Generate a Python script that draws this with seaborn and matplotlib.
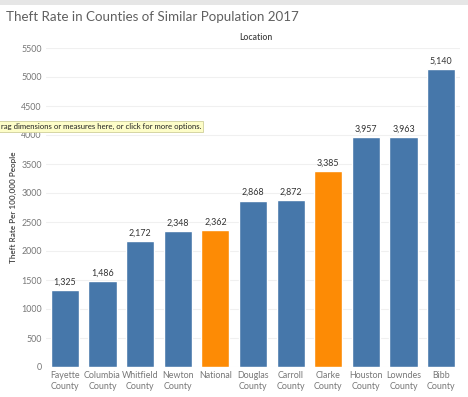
import pandas as pd
import matplotlib.pyplot as plt
import seaborn as sns
from matplotlib.patches import Rectangle

locations = ["Fayette\nCounty", "Columbia\nCounty", "Whitfield\nCounty", "Newton\nCounty",
             "National", "Douglas\nCounty", "Carroll\nCounty", "Clarke\nCounty",
             "Houston\nCounty", "Lowndes\nCounty", "Bibb\nCounty"]
theft_rate = [1325, 1486, 2172, 2348, 2362, 2868, 2872, 3385, 3957, 3963, 5140]
group = ["other", "other", "other", "other", "highlight", "other", "other", "highlight",
         "other", "other", "other"]
y_ticks = [0, 500, 1000, 1500, 2000, 2500, 3000, 3500, 4000, 4500, 5000, 5500]

df = pd.DataFrame({"Location": locations, "Rate": theft_rate, "Group": group})

sns.set_style("white")
plt.rcParams['font.family'] = ['Lato', 'DejaVu Sans']

fig = plt.figure(figsize=(4.68, 3.97), dpi=100)
ax = fig.add_axes([46 / 468, 30 / 397, 414 / 468, 319 / 397])

sns.barplot(data=df, x="Location", y="Rate", hue="Group",
            palette={"other": "#4677aa", "highlight": "#fd8b05"},
            saturation=1, dodge=False, width=0.75, legend=False, ax=ax)

for i, v in enumerate(theft_rate):
    ax.text(i, v + 60, f"{v:,}", ha="center", va="bottom", fontsize=6.4, color="#333333")

ax.set_ylim(0, 5500)
ax.set_yticks(y_ticks)
ax.set_xlim(-0.5, len(locations) - 0.5)
ax.grid(axis="y", color="#f0f0f0", linewidth=0.8)
ax.set_axisbelow(True)
sns.despine(ax=ax, left=True, bottom=True)
ax.tick_params(axis="both", length=0, labelsize=6.4, labelcolor="#777777", pad=3)
ax.set_xlabel("")
ax.set_ylabel("Theft Rate Per 100,000 People", fontsize=5.9, color="#444444",
              fontweight="semibold", labelpad=3)

# title, column header and the tableau bits
fig.text(6 / 468, 1 - 17 / 397, "Theft Rate in Counties of Similar Population 2017",
         fontsize=9.6, color="#606060", va="center", ha="left")
fig.text(256 / 468, 1 - 38 / 397, "Location", fontsize=6.2, color="#444444",
         fontweight="semibold", ha="center", va="center")
fig.patches.append(Rectangle((0, 1 - 5 / 397), 1, 5 / 397, transform=fig.transFigure,
                             facecolor="#e6e6e6", edgecolor="none"))
fig.patches.append(Rectangle((-0.01, 1 - 132 / 397), 203 / 468 + 0.01, 11 / 397,
                             transform=fig.transFigure, facecolor="#fdfdc8",
                             edgecolor="#cfcf9a", linewidth=0.6, zorder=5))
fig.text(1 / 468, 1 - 126.5 / 397, "rag dimensions or measures here, or click for more options.",
         fontsize=5.6, color="#222222", va="center", ha="left", zorder=6)

plt.savefig("out.png", dpi=100)
